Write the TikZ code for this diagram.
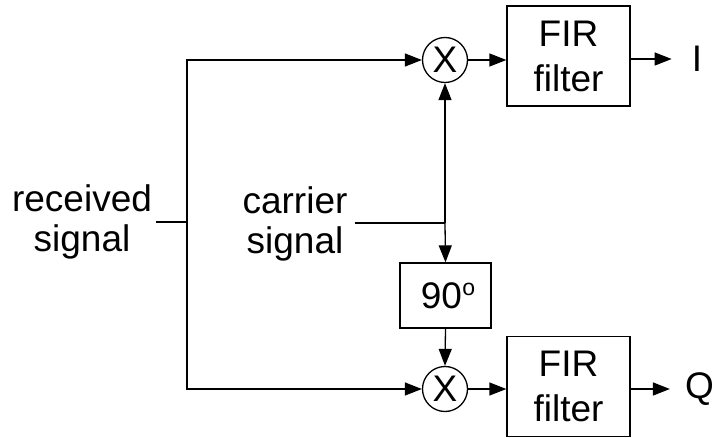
\documentclass[tikz,border=0pt]{standalone}
\usepackage{fontspec}
\setmainfont{Liberation Sans}
\usetikzlibrary{arrows.meta}
\begin{document}
\begin{tikzpicture}[x=1pt,y=-1pt,
  every node/.style={font=\fontsize{37}{40}\selectfont},
  wire/.style={line width=1.3pt},
  arr/.style={wire,-{Triangle[length=17pt,width=13pt]}},
  mixer/.style={draw,line width=1.3pt,circle,minimum size=45pt,inner sep=0pt},
  blockbox/.style={draw,line width=1.3pt,align=center,inner sep=0pt},
  lbl/.style={align=center,inner sep=0pt}]
\useasboundingbox (0,0) rectangle (715,438);
% nodes
\node[lbl] (rs) at (82,222) {received\\signal};
\node[lbl] (cs) at (295,224) {carrier\\signal};
\node[mixer] (m1) at (445,60) {X};
\node[mixer] (m2) at (445,389) {X};
\node[blockbox,minimum width=123pt,minimum height=100pt,font=\fontsize{37}{45}\selectfont] (f1) at (568.5,56) {FIR\\filter};
\node[blockbox,minimum width=123pt,minimum height=100pt,font=\fontsize{37}{45}\selectfont] (f2) at (568.5,386.5) {FIR\\filter};
\node[blockbox,minimum width=91pt,minimum height=65pt] (ph) at (445.5,295.5) {\hspace*{5pt}90\hspace{0.5pt}\raisebox{13pt}{\fontsize{23}{23}\selectfont o}};
\node[inner sep=0pt,inner xsep=20pt] (I) at (697,59) {I};
\node[inner sep=0pt,inner xsep=15pt] (Q) at (699.5,389) {Q};
\coordinate (j) at (187,222);
\coordinate (k) at (445,223);
% connectors
\draw[wire] ([xshift=4pt]rs.east |- j) -- (j);
\draw[arr] (j) |- (m1.west);
\draw[arr] (j) |- (m2.west);
\draw[wire] ([xshift=7pt]cs.east |- k) -- (k);
\draw[arr] (k) -- (m1.south);
\draw[arr] (k) -- (ph.north);
\draw[arr] (ph.south) -- (m2.north);
\draw[arr] (m1.east) -- (m1.east -| f1.west);
\draw[arr] (m2.east) -- (m2.east -| f2.west);
\draw[arr] (f1.east |- I) -- (I.west);
\draw[arr] (f2.east |- Q) -- (Q.west);
\end{tikzpicture}
\end{document}
